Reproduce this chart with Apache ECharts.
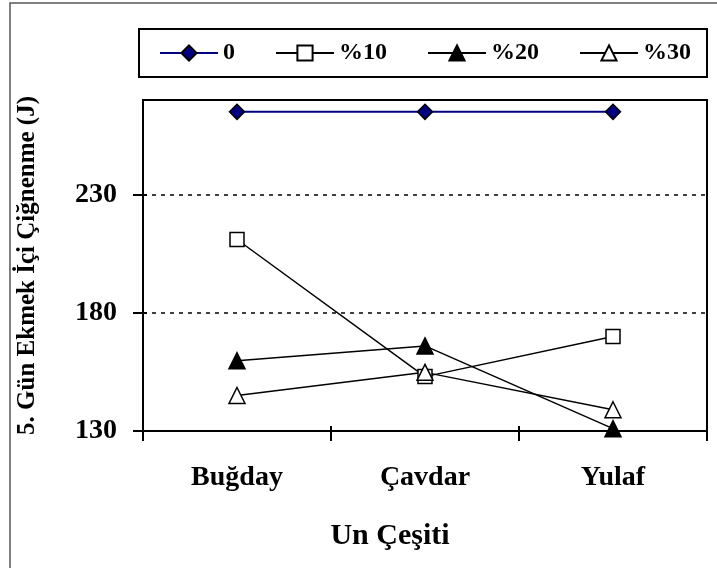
<!DOCTYPE html>
<html>
<head>
<meta charset="utf-8">
<script src="https://cdn.jsdelivr.net/npm/echarts@6/dist/echarts.min.js"></script>
<style>
html,body{margin:0;padding:0;background:#fff;}
#chart{width:717px;height:568px;}
</style>
</head>
<body>
<div id="chart"></div>
<script>
const categories = ['Buğday', 'Çavdar', 'Yulaf'];
const seriesNames = ['0', '%10', '%20', '%30'];
const s0 = [265, 265, 265];
const s10 = [211, 153, 170];
const s20 = [159.7, 166, 131];
const s30 = [145, 154.8, 139];
const yTicks = [130, 180, 230];
const yMin = 130, yMax = 270, yStep = 50;

const FONT = '"Liberation Serif", "Times New Roman", serif';
const chart = echarts.init(document.getElementById('chart'), null, {renderer: 'canvas'});

function mkSeries(name, data, symbol, size, fill, lineColor, lineWidth) {
  return {
    name: name, type: 'line', data: data,
    symbol: symbol, symbolSize: size, showSymbol: true,
    lineStyle: {color: lineColor, width: lineWidth},
    itemStyle: {color: fill, borderColor: '#000', borderWidth: 1.5},
    emphasis: {disabled: true},
    animation: false, z: 3
  };
}

const option = {
  animation: false,
  backgroundColor: '#fff',
  graphic: [{
    type: 'rect', shape: {x: 10, y: 3, width: 720, height: 580},
    style: {fill: 'none', stroke: '#555', lineWidth: 1.5}, silent: true
  }],
  legend: {
    data: seriesNames,
    left: 139, top: 29,
    padding: [12, 16, 12, 20],
    itemWidth: 58, itemHeight: 19, itemGap: 40,
    borderColor: '#000', borderWidth: 2,
    textStyle: {fontFamily: FONT, fontWeight: 'bold', fontSize: 24, color: '#000'}
  },
  grid: {
    left: 143, right: 10, top: 100, bottom: 137,
    show: true, borderColor: '#000', borderWidth: 2, backgroundColor: '#fff'
  },
  xAxis: [{
    type: 'category', data: categories, boundaryGap: true,
    name: 'Un Çeşiti', nameLocation: 'middle', nameGap: 90,
    nameTextStyle: {fontFamily: FONT, fontWeight: 'bold', fontSize: 30, color: '#000', padding: [0, 70, 0, 0]},
    axisLine: {lineStyle: {color: '#000', width: 2}},
    axisTick: {show: true, length: 10, lineStyle: {color: '#000', width: 2}},
    axisLabel: {margin: 33, fontFamily: FONT, fontWeight: 'bold', fontSize: 28, color: '#000'},
    splitLine: {show: false}
  }, {
    type: 'category', data: categories, boundaryGap: true, position: 'bottom',
    axisLine: {show: false},
    axisTick: {show: true, inside: true, length: 5, lineStyle: {color: '#000', width: 2}},
    axisLabel: {show: false}, splitLine: {show: false}
  }],
  yAxis: [{
    type: 'value', min: yMin, max: yMax, interval: yStep,
    name: '5. Gün Ekmek İçi Çiğnenme (J)', nameLocation: 'middle', nameGap: 103,
    nameTextStyle: {fontFamily: FONT, fontWeight: 'bold', fontSize: 25, color: '#000'},
    axisLine: {show: true, lineStyle: {color: '#000', width: 2}},
    axisTick: {show: true, length: 10, customValues: yTicks, lineStyle: {color: '#000', width: 2}},
    axisLabel: {margin: 26, customValues: yTicks, fontFamily: FONT, fontWeight: 'bold', fontSize: 28, color: '#000'},
    splitLine: {show: true, lineStyle: {color: '#000', width: 1.5, type: [4, 5]}}
  }, {
    type: 'value', min: yMin, max: yMax, interval: yStep, position: 'left',
    axisLine: {show: false},
    axisTick: {show: true, inside: true, length: 4, customValues: yTicks, lineStyle: {color: '#000', width: 2}},
    axisLabel: {show: false}, splitLine: {show: false}
  }],
  series: [
    mkSeries(seriesNames[0], s0, 'diamond', 15, '#000080', '#000080', 2),
    mkSeries(seriesNames[1], s10, 'rect', 14, '#fff', '#000', 1.5),
    mkSeries(seriesNames[2], s20, 'triangle', 16, '#000', '#000', 1.5),
    mkSeries(seriesNames[3], s30, 'triangle', 16, '#fff', '#000', 1.5)
  ]
};
chart.setOption(option);
</script>
</body>
</html>
